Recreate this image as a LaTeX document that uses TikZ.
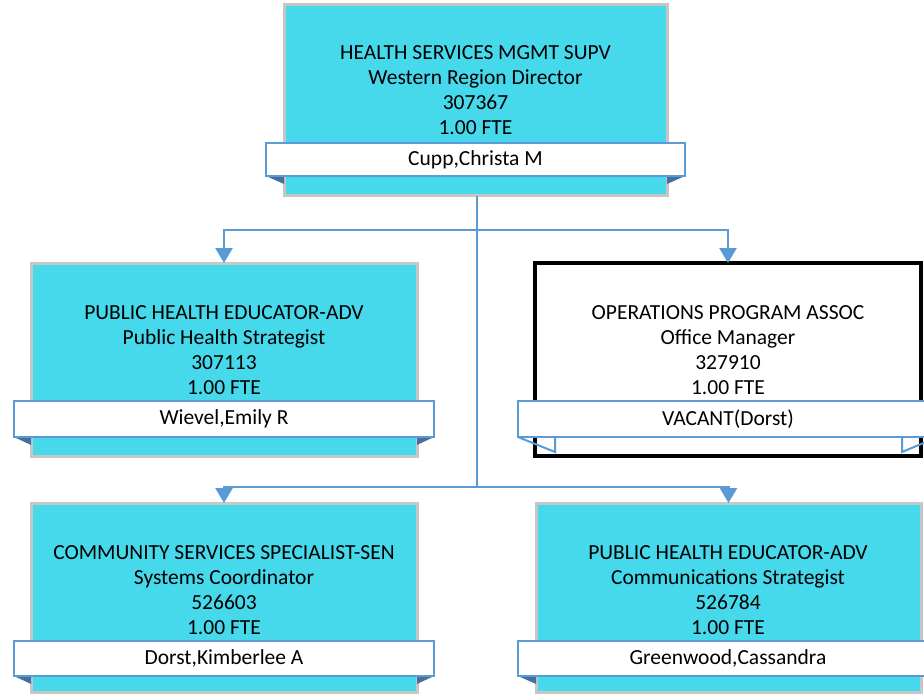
\documentclass[tikz,border=0pt]{standalone}
\usepackage{fontspec}
\setmainfont{Carlito}
\usetikzlibrary{arrows.meta}
\definecolor{cyanfill}{HTML}{46D8EB}
\definecolor{graybd}{HTML}{C6C6C6}
\definecolor{bluebd}{HTML}{5B9BD5}
\definecolor{folddk}{HTML}{41719C}
\begin{document}
\begin{tikzpicture}[x=1pt,y=-1pt,
  posbox/.style={draw=graybd, line width=3pt, fill=cyanfill, rectangle, anchor=north west, inner sep=0pt, outer sep=0pt},
  vacbox/.style={draw=black, line width=3.5pt, fill=white, rectangle, anchor=north west, inner sep=0pt, outer sep=0pt},
  namebox/.style={draw=bluebd, line width=2.5pt, fill=white, rectangle, anchor=north west, inner sep=0pt, outer sep=0pt, font=\fontsize{21.5}{25}\selectfont},
  ttl/.style={align=center, font=\fontsize{21.5}{25}\selectfont, inner sep=0pt},
  conn/.style={draw=bluebd, line width=2.5pt},
  arr/.style={-{Triangle[length=15pt,width=17pt]}},
  foldfill/.style={fill=folddk},
  foldline/.style={draw=bluebd, line width=2pt}]
\useasboundingbox (0,0) rectangle (924,696);
\clip (0,0) rectangle (924,696);

% position boxes
\node[posbox, minimum width=383pt, minimum height=191pt] (top) at (284,4) {};
\node[posbox, minimum width=386pt, minimum height=193pt] (ml) at (31,263) {};
\node[vacbox, minimum width=386pt, minimum height=193pt] (mr) at (535,263) {};
\node[posbox, minimum width=386pt, minimum height=189pt] (bl) at (31,503) {};
\node[posbox, minimum width=385pt, minimum height=189pt] (br) at (536,503) {};

% titles
\node[ttl] (ttop) at (475.5,90) {HEALTH SERVICES MGMT SUPV\\Western Region Director\\307367\\1.00 FTE};
\node[ttl] (tml) at (224,350) {PUBLIC HEALTH EDUCATOR-ADV\\Public Health Strategist\\307113\\1.00 FTE};
\node[ttl] (tmr) at (728,350) {OPERATIONS PROGRAM ASSOC\\Office Manager\\327910\\1.00 FTE};
\node[ttl] (tbl) at (224,590) {COMMUNITY SERVICES SPECIALIST-SEN\\Systems Coordinator\\526603\\1.00 FTE};
\node[ttl] (tbr) at (728,590) {PUBLIC HEALTH EDUCATOR-ADV\\Communications Strategist\\526784\\1.00 FTE};

% folds
\fill[foldfill] (266,176) -- (top.west |- 0,176) -- ++(0,8) -- cycle;
\fill[foldfill] (685,176) -- (top.east |- 0,176) -- ++(0,8) -- cycle;
\fill[foldfill] (14,437) -- (ml.west |- 0,437) -- ++(0,8) -- cycle;
\fill[foldfill] (434,437) -- (ml.east |- 0,437) -- ++(0,8) -- cycle;
\fill[foldfill] (14,676) -- (bl.west |- 0,676) -- ++(0,8) -- cycle;
\fill[foldfill] (434,676) -- (bl.east |- 0,676) -- ++(0,8) -- cycle;
\fill[foldfill] (518,676) -- (br.west |- 0,676) -- ++(0,8) -- cycle;
\draw[foldline] (518,437) -- (555,452) -- (555,437);
\draw[foldline] (902,437) -- (902,452) -- (938,437);

% name boxes
\node[namebox, line width=2pt, minimum width=419pt, minimum height=33pt] (ntop) at (266,143) {Cupp,Christa M};
\node[namebox, minimum width=420pt, minimum height=36pt] (nml) at (14,401) {Wievel,Emily R};
\node[namebox, minimum width=420pt, minimum height=36pt] (nmr) at (518,401) {VACANT(Dorst)};
\node[namebox, minimum width=420pt, minimum height=35pt] (nbl) at (14,641) {Dorst,Kimberlee A};
\node[namebox, minimum width=420pt, minimum height=35pt] (nbr) at (518,641) {Greenwood,Cassandra};

% connectors
\coordinate (j1) at (477,230);
\coordinate (j2) at (477,487);
\draw[conn] (477,196) -- (j2);
\draw[conn, arr] (j1) -| (ml.north);
\draw[conn, arr] (j1) -| (mr.north);
\draw[conn, arr] (j2) -| (bl.north);
\draw[conn, arr] (j2) -| (br.north);
\end{tikzpicture}
\end{document}
